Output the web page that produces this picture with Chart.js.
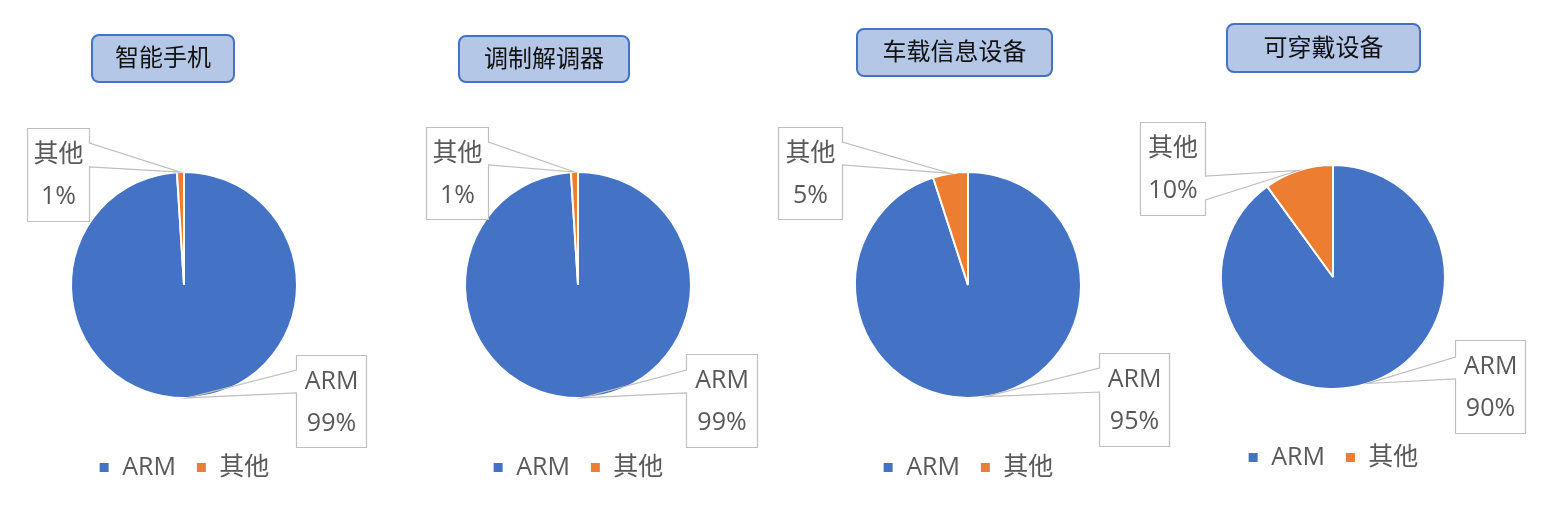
<!DOCTYPE html>
<html>
<head>
<meta charset="utf-8">
<script src="https://cdn.jsdelivr.net/npm/chart.js@4.4.1/dist/chart.umd.min.js"></script>
<style>
  html, body { margin: 0; padding: 0; background: #fff; }
  body { width: 1561px; height: 516px; position: relative; overflow: hidden; }
  .box { position: absolute; left: 0; top: 0; width: 1561px; height: 516px; }
</style>
</head>
<body>
<div class="box"><canvas id="c0"></canvas></div>
<div class="box"><canvas id="c1"></canvas></div>
<div class="box"><canvas id="c2"></canvas></div>
<div class="box"><canvas id="c3"></canvas></div>
<script>
// 数据
var categories = ['ARM', '其他'];
var titles = ['智能手机', '调制解调器', '车载信息设备', '可穿戴设备'];
var smartphone = [99, 1];
var modem = [99, 1];
var vehicle = [95, 5];
var wearable = [90, 10];
var seriesValues = [smartphone, modem, vehicle, wearable];

var colors = ['#4472C4', '#ED7D31'];
var FONT = '"Open Sans", "Noto Sans CJK SC", sans-serif';

// 版面：饼图中心、半径、图例位置
var pies = [
    { cx: 184, cy: 285, r: 113, legendY: 467 },
    { cx: 578, cy: 285, r: 113, legendY: 467 },
    { cx: 968, cy: 285, r: 113, legendY: 467 },
    { cx: 1333, cy: 277, r: 112, legendY: 457 }
];
// 标题框 [x, y, w, h]
var titleBoxes = [
    [92, 35, 142, 47],
    [459, 36, 170, 46],
    [857, 29, 195, 47],
    [1227, 24, 193, 48]
];
// 数据标签框 [x, y, w, h, 指针上沿, 指针下沿]，顺序同 categories
var labelBoxes = [
    [[296, 355, 70, 92, 370, 393], [27, 128, 62, 93, 143, 167]],
    [[686, 354, 71, 93, 370, 393], [426, 127, 62, 92, 142, 165]],
    [[1099, 353, 70, 93, 368, 392], [778, 127, 64, 92, 142, 165]],
    [[1455, 340, 70, 93, 357, 379], [1140, 122, 65, 93, 176, 200]]
];

function roundRect(ctx, x, y, w, h, r) {
    ctx.beginPath();
    ctx.moveTo(x + r, y);
    ctx.lineTo(x + w - r, y);
    ctx.arcTo(x + w, y, x + w, y + r, r);
    ctx.lineTo(x + w, y + h - r);
    ctx.arcTo(x + w, y + h, x + w - r, y + h, r);
    ctx.lineTo(x + r, y + h);
    ctx.arcTo(x, y + h, x, y + h - r, r);
    ctx.lineTo(x, y + r);
    ctx.arcTo(x, y, x + r, y, r);
    ctx.closePath();
}

// 标题和带指针的数据标签
var decorPlugin = {
    id: 'decor',
    afterDraw: function (chart) {
        var ctx = chart.ctx;
        var idx = chart.options.plugins.decor.index;
        var tb = titleBoxes[idx];

        ctx.save();
        roundRect(ctx, tb[0], tb[1], tb[2], tb[3], 7);
        ctx.fillStyle = '#B4C7E7';
        ctx.fill();
        ctx.lineWidth = 2;
        ctx.strokeStyle = '#4472C4';
        ctx.stroke();
        ctx.fillStyle = '#111';
        ctx.font = '24px ' + FONT;
        ctx.textAlign = 'center';
        ctx.textBaseline = 'middle';
        ctx.fillText(titles[idx], tb[0] + tb[2] / 2, tb[1] + tb[3] / 2 + 1);

        var meta = chart.getDatasetMeta(0);
        var vals = chart.data.datasets[0].data;
        var total = vals.reduce(function (a, b) { return a + b; }, 0);
        meta.data.forEach(function (arc, i) {
            var b = labelBoxes[idx][i];
            var mid = (arc.startAngle + arc.endAngle) / 2;
            var tx = arc.x + Math.cos(mid) * arc.outerRadius;
            var ty = arc.y + Math.sin(mid) * arc.outerRadius;
            var x = b[0] + 0.5, y = b[1] + 0.5, w = b[2], h = b[3];
            ctx.beginPath();
            if (tx > x + w) {
                // 指针在右侧
                ctx.moveTo(x, y);
                ctx.lineTo(x + w, y);
                ctx.lineTo(x + w, b[4]);
                ctx.lineTo(tx, ty);
                ctx.lineTo(x + w, b[5]);
                ctx.lineTo(x + w, y + h);
                ctx.lineTo(x, y + h);
            } else {
                // 指针在左侧
                ctx.moveTo(x, y);
                ctx.lineTo(x + w, y);
                ctx.lineTo(x + w, y + h);
                ctx.lineTo(x, y + h);
                ctx.lineTo(x, b[5]);
                ctx.lineTo(tx, ty);
                ctx.lineTo(x, b[4]);
            }
            ctx.closePath();
            ctx.lineWidth = 1.2;
            ctx.strokeStyle = '#BFBFBF';
            ctx.stroke();

            ctx.fillStyle = '#595959';
            ctx.font = '25px ' + FONT;
            ctx.textAlign = 'center';
            ctx.textBaseline = 'middle';
            var pct = Math.round(vals[i] / total * 100) + '%';
            ctx.fillText(chart.data.labels[i], x + w / 2, y + 26);
            ctx.fillText(pct, x + w / 2, y + 68);
        });
        ctx.restore();
    }
};

var W = 1561, H = 516;
var LEG_PAD = 20;
var LEG_FONT = 25;

seriesValues.forEach(function (values, i) {
    var p = pies[i];
    // 图例高度 = 字号 + padding + 10
    var legH = LEG_FONT + LEG_PAD + 10;
    var legTop = p.legendY - LEG_PAD - 12;
    var padBottom = H - (legTop + legH);
    var areaBottom = legTop;
    var padTop = 2 * p.cy - areaBottom;

    new Chart(document.getElementById('c' + i), {
        type: 'pie',
        data: {
            labels: categories,
            datasets: [{
                data: values,
                backgroundColor: colors,
                borderColor: '#ffffff',
                borderWidth: 2
            }]
        },
        options: {
            responsive: true,
            maintainAspectRatio: false,
            animation: false,
            radius: p.r,
            layout: {
                padding: {
                    left: p.cx - p.r,
                    right: W - p.cx - p.r,
                    top: padTop,
                    bottom: padBottom
                }
            },
            plugins: {
                decor: { index: i },
                tooltip: { enabled: false },
                legend: {
                    position: 'bottom',
                    labels: {
                        boxWidth: 11,
                        boxHeight: 11,
                        padding: LEG_PAD,
                        color: '#595959',
                        font: { size: LEG_FONT, family: FONT }
                    }
                }
            }
        },
        plugins: [decorPlugin]
    });
});
</script>
</body>
</html>
